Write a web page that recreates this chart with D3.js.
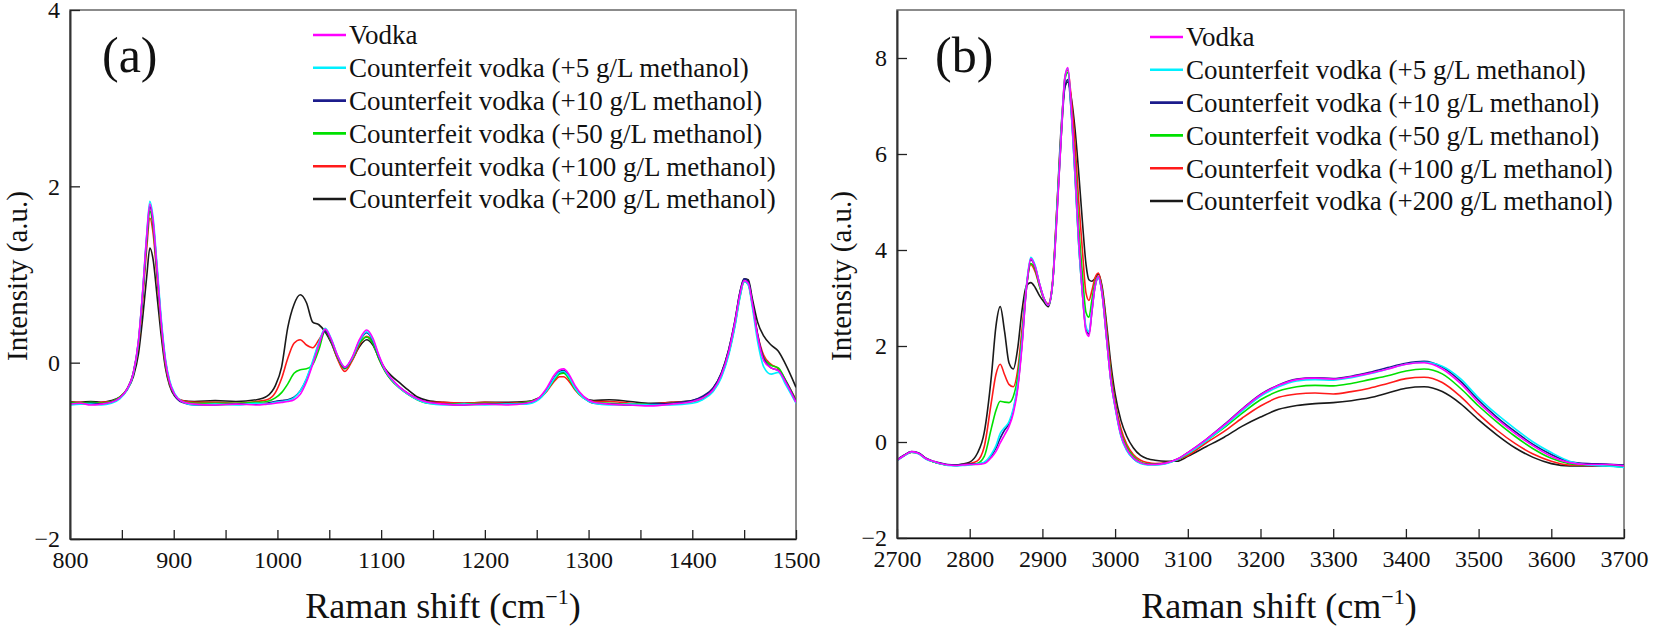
<!DOCTYPE html>
<html>
<head>
<meta charset="utf-8">
<script src="https://cdn.jsdelivr.net/npm/d3@7"></script>
<style>
  body { margin: 0; background: #fff; }
  svg { display: block; }
  svg text { font-family: "Liberation Serif", "Times New Roman", serif; fill: #111; }
  .axis text { font-size: 24px; }
  .axis line { stroke: #222; stroke-width: 1.3; }
</style>
</head>
<body>
<script>
// series labels and colours (legend order)
var seriesNames = [
  "Vodka",
  "Counterfeit vodka (+5 g/L methanol)",
  "Counterfeit vodka (+10 g/L methanol)",
  "Counterfeit vodka (+50 g/L methanol)",
  "Counterfeit vodka (+100 g/L methanol)",
  "Counterfeit vodka (+200 g/L methanol)"
];
var seriesColors = ["#ff00ff", "#00f0ff", "#1c1c8c", "#00e000", "#ff1a1a", "#1a1a1a"];

// panel (a): 800 - 1500 cm-1
var leftShift = [800,810,820,830,840,848,855,861,866,870,874,877,880,884,888,892,896,901,908,920,
  940,960,980,990,998,1004,1010,1016,1022,1028,1034,1040,1046,1052,1058,1065,1072,1079,1086,1092,1098,1104,1110,1118,1126,1135,1145,
  1160,1180,1200,1220,1240,1252,1260,1267,1272,1276,1281,1287,1295,1305,1320,1340,1360,1380,1400,
  1410,1420,1428,1435,1441,1446,1450,1454,1458,1463,1469,1476,1483,1490,1500];
var leftVodka = [-.47,-.46,-.48,-.47,-.45,-.40,-.30,-.12,.25,.80,1.45,1.80,1.62,1.05,.45,.02,-.22,-.36,-.44,-.47,
  -.48,-.47,-.48,-.47,-.46,-.45,-.44,-.42,-.36,-.22,-.02,.20,.38,.26,.08,-.05,.06,.26,.37,.28,.08,-.08,-.18,-.28,-.35,-.41,-.45,
  -.47,-.48,-.47,-.48,-.46,-.40,-.28,-.14,-.08,-.07,-.13,-.26,-.38,-.45,-.47,-.48,-.49,-.47,-.44,
  -.40,-.31,-.14,.12,.45,.78,.93,.90,.66,.30,.02,-.06,-.09,-.22,-.45];
var leftM5 = [-.48,-.47,-.47,-.48,-.46,-.41,-.31,-.13,.24,.80,1.46,1.83,1.66,1.10,.50,.05,-.20,-.35,-.44,-.48,
  -.47,-.48,-.46,-.47,-.45,-.44,-.43,-.40,-.32,-.18,.02,.23,.39,.27,.08,-.05,.05,.24,.35,.26,.07,-.09,-.19,-.29,-.36,-.42,-.46,
  -.48,-.47,-.48,-.47,-.47,-.42,-.31,-.18,-.11,-.10,-.16,-.29,-.40,-.46,-.48,-.47,-.48,-.48,-.46,
  -.42,-.33,-.17,.08,.40,.74,.92,.88,.62,.24,-.05,-.13,-.11,-.25,-.46];
var leftM10 = [-.46,-.47,-.46,-.47,-.45,-.40,-.30,-.12,.24,.78,1.42,1.77,1.60,1.05,.46,.02,-.22,-.37,-.45,-.48,
  -.48,-.47,-.47,-.46,-.44,-.43,-.42,-.39,-.32,-.19,.00,.21,.36,.25,.07,-.06,.05,.24,.34,.25,.06,-.09,-.19,-.28,-.35,-.41,-.45,
  -.47,-.48,-.47,-.47,-.46,-.41,-.30,-.17,-.10,-.09,-.15,-.28,-.39,-.46,-.47,-.48,-.47,-.46,-.43,
  -.38,-.29,-.12,.14,.47,.80,.95,.92,.68,.32,.04,-.06,-.09,-.21,-.44];
var leftM50 = [-.45,-.46,-.45,-.46,-.44,-.39,-.30,-.12,.22,.75,1.38,1.72,1.55,1.00,.42,.00,-.23,-.37,-.44,-.46,
  -.46,-.46,-.45,-.44,-.40,-.34,-.24,-.12,-.08,-.07,-.02,.15,.36,.24,.06,-.07,.04,.22,.29,.22,.04,-.10,-.20,-.29,-.36,-.42,-.46,
  -.47,-.47,-.46,-.47,-.45,-.41,-.31,-.19,-.13,-.12,-.18,-.30,-.40,-.45,-.46,-.47,-.47,-.46,-.44,
  -.40,-.32,-.15,.10,.42,.75,.92,.89,.65,.30,.05,-.03,-.06,-.20,-.43];
var leftM100 = [-.45,-.45,-.46,-.45,-.44,-.39,-.30,-.13,.20,.70,1.30,1.64,1.48,.95,.40,-.02,-.24,-.37,-.43,-.45,
  -.45,-.46,-.44,-.42,-.34,-.18,.05,.22,.26,.20,.17,.26,.36,.24,.04,-.10,.02,.20,.30,.23,.04,-.10,-.20,-.29,-.36,-.42,-.45,
  -.45,-.46,-.45,-.46,-.45,-.41,-.32,-.21,-.16,-.16,-.21,-.31,-.40,-.44,-.44,-.46,-.47,-.45,-.44,
  -.41,-.32,-.15,.10,.42,.76,.92,.89,.66,.32,.08,-.02,-.07,-.20,-.42];
var leftM200 = [-.44,-.45,-.44,-.45,-.43,-.39,-.31,-.16,.10,.50,.98,1.30,1.18,.75,.30,-.06,-.26,-.38,-.43,-.44,
  -.43,-.44,-.42,-.38,-.26,-.05,.40,.66,.77,.68,.46,.43,.35,.22,.05,-.06,.03,.18,.26,.20,.05,-.07,-.15,-.23,-.31,-.39,-.43,
  -.45,-.46,-.45,-.45,-.44,-.40,-.30,-.18,-.12,-.11,-.17,-.29,-.39,-.43,-.42,-.44,-.46,-.45,-.43,
  -.39,-.29,-.12,.14,.46,.80,.95,.94,.72,.46,.30,.20,.13,-.02,-.28];

// panel (b): 2700 - 3700 cm-1
var rightShift = [2700,2710,2720,2730,2740,2750,2760,2770,2780,2790,2800,2810,2820,2830,
  2836,2842,2848,2854,2860,2866,2872,2878,2884,2890,2896,2902,2908,2914,2920,2926,
  2931,2935,2940,2945,2950,2955,2960,2964,2968,2972,2977,2982,2988,2994,3000,
  3008,3016,3025,3035,3045,3055,3070,3085,3100,
  3125,3150,3175,3200,3225,3250,3275,3300,3325,3350,3375,3400,3425,3450,3475,3500,3525,3550,3575,3600,3625,3650,3675,3700];
var rightVodka = [-.38,-.28,-.20,-.24,-.35,-.40,-.45,-.48,-.49,-.48,-.47,-.47,-.45,-.32,
  -.20,-.02,.15,.32,.60,1.10,2.0,3.2,3.82,3.65,3.3,3.0,2.85,3.3,4.7,6.4,
  7.6,7.8,6.9,5.6,4.2,3.1,2.3,2.2,2.7,3.2,3.45,3.1,2.2,1.3,.75,
  .15,-.15,-.33,-.43,-.47,-.47,-.44,-.36,-.22,
  .05,.35,.68,.98,1.18,1.30,1.33,1.31,1.36,1.43,1.52,1.62,1.65,1.52,1.22,.82,.48,.18,-.08,-.30,-.43,-.47,-.47,-.50];
var rightM5 = [-.39,-.29,-.21,-.25,-.36,-.41,-.46,-.49,-.50,-.49,-.48,-.46,-.42,-.25,
  -.08,.18,.30,.42,.70,1.20,2.1,3.25,3.85,3.68,3.3,3.0,2.85,3.3,4.8,6.5,
  7.6,7.78,6.8,5.5,4.1,3.1,2.4,2.3,2.75,3.2,3.42,3.1,2.2,1.3,.72,
  .12,-.18,-.35,-.45,-.48,-.48,-.45,-.37,-.24,
  .02,.32,.65,.95,1.15,1.27,1.30,1.29,1.34,1.42,1.52,1.62,1.66,1.58,1.32,.92,.58,.28,.00,-.22,-.40,-.48,-.50,-.53];
var rightM10 = [-.37,-.27,-.20,-.23,-.34,-.40,-.44,-.47,-.48,-.47,-.46,-.46,-.43,-.28,
  -.13,.08,.25,.38,.66,1.15,2.05,3.2,3.80,3.65,3.3,3.0,2.85,3.3,4.75,6.4,
  7.4,7.55,6.8,5.5,4.1,3.1,2.35,2.25,2.7,3.2,3.42,3.1,2.2,1.3,.74,
  .14,-.16,-.34,-.44,-.47,-.47,-.44,-.36,-.22,
  .05,.36,.69,.99,1.19,1.31,1.34,1.32,1.37,1.45,1.55,1.64,1.68,1.56,1.27,.87,.52,.22,-.05,-.26,-.41,-.45,-.46,-.48];
var rightM50 = [-.38,-.28,-.21,-.24,-.35,-.41,-.45,-.48,-.49,-.48,-.47,-.45,-.30,.30,
  .65,.85,.83,.82,.95,1.35,2.2,3.2,3.72,3.6,3.25,2.98,2.85,3.3,4.8,6.4,
  7.55,7.7,6.9,5.8,4.5,3.5,2.7,2.6,2.95,3.3,3.45,3.15,2.3,1.4,.80,
  .20,-.10,-.30,-.42,-.46,-.47,-.44,-.37,-.25,
  .02,.30,.60,.88,1.06,1.15,1.18,1.17,1.22,1.30,1.38,1.48,1.52,1.42,1.12,.75,.42,.12,-.14,-.34,-.45,-.48,-.49,-.52];
var rightM100 = [-.38,-.28,-.21,-.24,-.35,-.41,-.45,-.48,-.49,-.47,-.45,-.40,-.10,.85,
  1.40,1.62,1.40,1.20,1.15,1.50,2.35,3.25,3.70,3.55,3.25,2.98,2.88,3.35,4.9,6.5,
  7.6,7.75,7.1,6.2,5.0,4.0,3.1,2.95,3.15,3.4,3.52,3.2,2.4,1.5,.85,
  .28,-.05,-.26,-.38,-.43,-.45,-.43,-.37,-.28,
  -.02,.22,.50,.75,.93,1.00,1.02,1.00,1.05,1.12,1.22,1.32,1.35,1.24,.95,.58,.25,-.03,-.25,-.40,-.48,-.49,-.49,-.51];
var rightM200 = [-.38,-.28,-.21,-.24,-.35,-.41,-.45,-.48,-.48,-.46,-.42,-.25,.20,1.40,
  2.40,2.82,2.30,1.65,1.52,1.95,2.75,3.25,3.32,3.22,3.05,2.92,2.82,3.3,4.9,6.6,
  7.4,7.5,7.15,6.5,5.6,4.6,3.7,3.38,3.35,3.4,3.5,3.25,2.5,1.65,1.0,
  .45,.12,-.12,-.28,-.35,-.38,-.40,-.40,-.30,
  -.10,.10,.33,.52,.68,.76,.80,.82,.86,.92,1.02,1.12,1.15,1.05,.80,.46,.15,-.12,-.32,-.45,-.50,-.50,-.50,-.52];

var leftTicksX = [800, 900, 1000, 1100, 1200, 1300, 1400, 1500];
var leftTicksY = [-2, 0, 2, 4];
var rightTicksX = [2700, 2800, 2900, 3000, 3100, 3200, 3300, 3400, 3500, 3600, 3700];
var rightTicksY = [-2, 0, 2, 4, 6, 8];

var serif = "'Liberation Serif', 'Times New Roman', serif";
var fmt = d3.format("d");

var svg = d3.select("body").append("svg")
  .attr("width", 1654)
  .attr("height", 628);

function drawPanel(p) {
  var x = d3.scaleLinear().domain(p.xDomain).range([p.left, p.right]);
  var y = d3.scaleLinear().domain(p.yDomain).range([p.bottom, p.top]);
  var g = svg.append("g");

  // frame
  g.append("rect")
    .attr("x", p.left).attr("y", p.top)
    .attr("width", p.right - p.left).attr("height", p.bottom - p.top)
    .attr("fill", "none").attr("stroke", "#666").attr("stroke-width", 1.5);

  var clipId = "clip" + p.name;
  svg.append("clipPath").attr("id", clipId).append("rect")
    .attr("x", p.left).attr("y", p.top)
    .attr("width", p.right - p.left).attr("height", p.bottom - p.top);

  var line = d3.line()
    .x(function(d) { return x(d[0]); })
    .y(function(d) { return y(d[1]); })
    .curve(d3.curveMonotoneX);

  // draw last series first so vodka ends on top
  for (var i = p.series.length - 1; i >= 0; i--) {
    var vals = p.series[i];
    var pts = p.shift.map(function(s, j) { return [s, vals[j]]; });
    g.append("path")
      .attr("clip-path", "url(#" + clipId + ")")
      .attr("d", line(pts))
      .attr("fill", "none")
      .attr("stroke", seriesColors[i])
      .attr("stroke-width", 1.6);
  }

  // axes with inward ticks
  var xAxis = g.append("g")
    .attr("class", "axis")
    .attr("transform", "translate(0," + p.bottom + ")")
    .call(d3.axisBottom(x).tickValues(p.minorX).tickSize(-9).tickSizeOuter(0).tickPadding(12)
      .tickFormat(function(d) { return p.ticksX.indexOf(d) >= 0 ? fmt(d) : ""; }));
  xAxis.attr("font-family", serif).attr("font-size", 24);
  xAxis.select(".domain").attr("stroke", "#111").attr("stroke-width", 1.6);

  var yAxis = g.append("g")
    .attr("class", "axis")
    .attr("transform", "translate(" + p.left + ",0)")
    .call(d3.axisLeft(y).tickValues(p.ticksY).tickSize(-10).tickSizeOuter(0).tickPadding(10)
      .tickFormat(fmt));
  yAxis.attr("font-family", serif).attr("font-size", 24);
  yAxis.select(".domain").attr("stroke", "#333").attr("stroke-width", 2);

  // axis titles
  g.append("text")
    .attr("transform", "translate(" + p.yTitleX + ",276) rotate(-90)")
    .attr("text-anchor", "middle")
    .style("font-size", "29px")
    .text("Intensity (a.u.)");

  var xt = g.append("text")
    .attr("x", p.xTitleX).attr("y", 618)
    .attr("text-anchor", "middle")
    .style("font-size", "36px");
  xt.append("tspan").text("Raman shift (cm");
  xt.append("tspan").attr("dy", -14).style("font-size", "22px").text("\u22121");
  xt.append("tspan").attr("dy", 14).text(")");

  // panel letter
  g.append("text")
    .attr("x", p.letterX).attr("y", 72)
    .style("font-size", "50px")
    .text(p.letter);

  // legend
  var lg = g.append("g");
  seriesNames.forEach(function(name, i) {
    var yy = p.legendY + i * 32.8;
    lg.append("line")
      .attr("x1", p.legendX).attr("x2", p.legendX + 33)
      .attr("y1", yy).attr("y2", yy)
      .attr("stroke", seriesColors[i]).attr("stroke-width", 2.6);
    lg.append("text")
      .attr("x", p.legendX + 36).attr("y", yy)
      .attr("dy", "0.35em")
      .style("font-size", "27px")
      .text(name);
  });
}

drawPanel({
  name: "a", letter: "(a)",
  left: 70, right: 796, top: 10, bottom: 539,
  xDomain: [800, 1500], yDomain: [-2, 4],
  shift: leftShift,
  series: [leftVodka, leftM5, leftM10, leftM50, leftM100, leftM200],
  ticksX: leftTicksX, ticksY: leftTicksY,
  minorX: d3.range(800, 1501, 50),
  yTitleX: 27, xTitleX: 443, letterX: 102,
  legendX: 313, legendY: 35
});

drawPanel({
  name: "b", letter: "(b)",
  left: 897, right: 1624, top: 10, bottom: 538,
  xDomain: [2700, 3700], yDomain: [-2, 9],
  shift: rightShift,
  series: [rightVodka, rightM5, rightM10, rightM50, rightM100, rightM200],
  ticksX: rightTicksX, ticksY: rightTicksY,
  minorX: rightTicksX,
  yTitleX: 851, xTitleX: 1279, letterX: 935,
  legendX: 1150, legendY: 37
});
</script>
</body>
</html>
